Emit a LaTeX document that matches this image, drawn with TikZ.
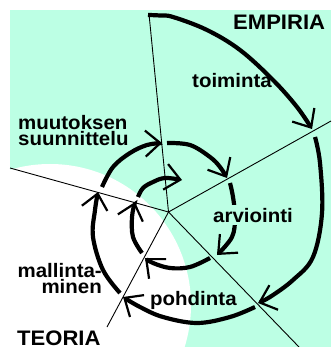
\documentclass[tikz,border=0pt]{standalone}
\usepackage{fontspec}
\setmainfont{Liberation Sans}
\newfontfamily\labfont{Liberation Sans}[FakeStretch=1.05]
\usetikzlibrary{arrows.meta}
\definecolor{mint}{RGB}{188,255,228}
\tikzset{
  ray/.style={line width=0.9pt},
  spiral/.style={line width=4.2pt,
    -{Straight Barb[length=15pt,width=26pt,line width=2.2pt]}},
  lab/.style={inner sep=0pt, font=\labfont\fontsize{19.5}{16}\selectfont\bfseries},
  biglab/.style={inner sep=0pt, font=\labfont\fontsize{21}{21}\selectfont\bfseries},
}
\begin{document}
\begin{tikzpicture}[x=1pt,y=-1pt]
\useasboundingbox (0,0) rectangle (331,347);
% background
\fill[mint] (10,10) rectangle (331,347);
\begin{scope}
  \clip (10,10) rectangle (331,347);
  \fill[white] (50,305) circle[radius=141];
\end{scope}
% rays
\coordinate (C) at (168.5,212);
\coordinate (RT) at (149,14);
\coordinate (RUR) at (331,121);
\coordinate (RL) at (10,168);
\coordinate (RLR) at (299,347);
\coordinate (RLL) at (107,327);
\draw[ray] (RT) -- (C);
\draw[ray] (C) -- (RUR);
\draw[ray] (C) -- (RL);
\draw[ray] (C) -- (RLR);
\draw[ray] (C) -- (RLL);
% spiral
\draw[spiral] plot[smooth,tension=0.6] coordinates {(148,15) (160,15.5) (173,17) (207,30) (240,50) (273,80) (297,107) (312,129)};
\draw[spiral] plot[smooth,tension=0.6] coordinates {(315,137) (320,163) (322,213) (313,257) (293,280) (270,297) (258,303)};
\draw[spiral] plot[smooth,tension=0.6] coordinates {(255,307) (230,317) (197,323) (163,317) (140,307) (123,297)};
\draw[spiral] plot[smooth,tension=0.6] coordinates {(120,293) (103,270) (93,237) (95,210) (98,192)};
\draw[spiral] plot[smooth,tension=0.6] coordinates {(102,187) (113,167) (130,153) (147,145) (162,143)};
\draw[spiral] plot[smooth,tension=0.6] coordinates {(167,143) (190,145) (210,157) (220,167) (227,178)};
\draw[spiral] plot[smooth,tension=0.6] coordinates {(230,183) (233,197) (235,217) (232,237) (217,255)};
\draw[spiral] plot[smooth,tension=0.6] coordinates {(210,258) (190,267) (170,268) (153,263) (145,258)};
\draw[spiral] plot[smooth,tension=0.6] coordinates {(142,253) (133,237) (132,217) (135,202)};
\draw[spiral] plot[smooth,tension=0.6] coordinates {(138,197) (143,188) (153,182) (165,178) (182,180)};
% labels
\node[biglab, anchor=base west] (empiria) at (233,30) {EMPIRIA};
\node[biglab, anchor=base west] (teoria) at (17,345.5) {TEORIA};
\node[lab, anchor=base west] (toiminta) at (192,88) {toiminta};
\node[lab, anchor=base west, align=left] (muut) at (18,145.5) {muutoksen\\suunnittelu};
\node[lab, anchor=base west, fill=mint, inner ysep=3pt] (arv) at (213,222) {arviointi};
\node[lab, anchor=base east, align=right] (mall) at (102,293) {mallinta-\\minen};
\node[lab, anchor=base west] (pohd) at (150,305) {pohdinta};
\end{tikzpicture}
\end{document}
